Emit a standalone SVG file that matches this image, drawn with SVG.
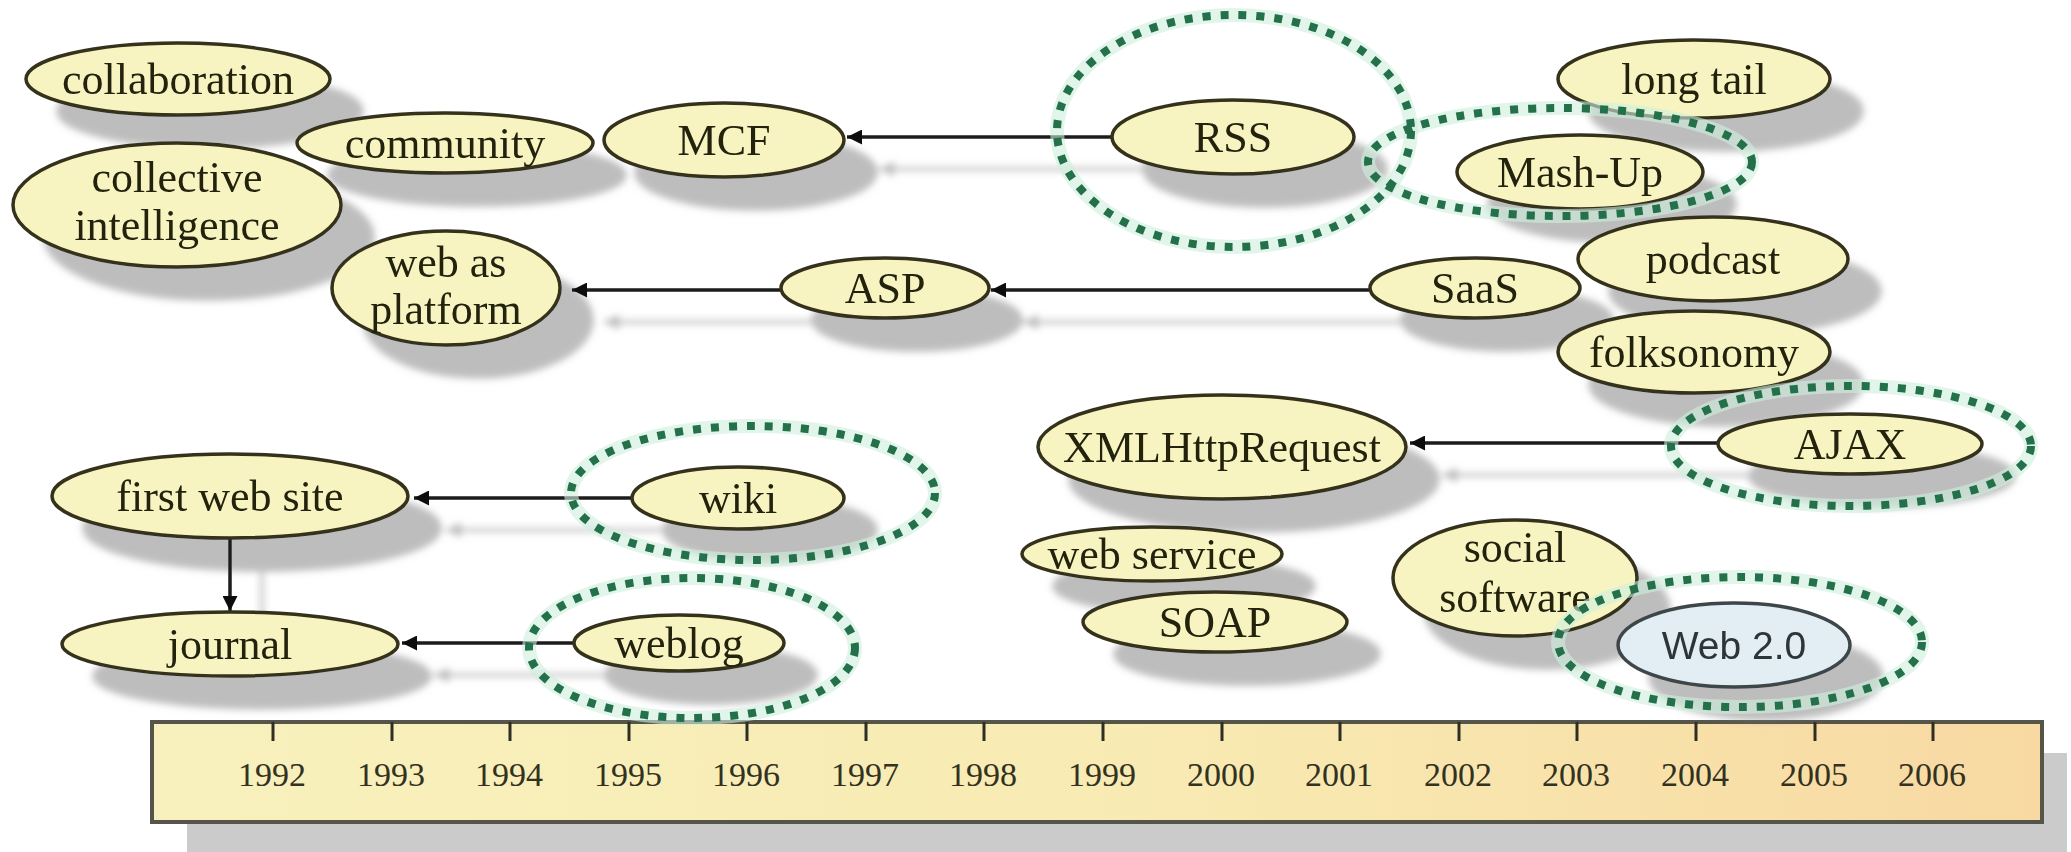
<svg xmlns="http://www.w3.org/2000/svg" width="2071" height="852" viewBox="0 0 2071 852">
<style>
.n{fill:#f8f4c2;stroke:#36311c;stroke-width:3.5}
.w{fill:#e2eef4;stroke:#3e4648;stroke-width:3.5}
.t{font-family:"Liberation Serif","Times New Roman",serif;font-size:44px;fill:#22220f;text-anchor:middle}
.ts{font-family:"Liberation Sans",Arial,sans-serif;font-size:39px;fill:#2e3438;text-anchor:middle}
.y{font-family:"Liberation Serif","Times New Roman",serif;font-size:34px;fill:#33311f;text-anchor:middle}
.c{stroke:#1a1a1a;stroke-width:3.5;fill:none;marker-end:url(#ah)}
.d{fill:none;stroke:#23704a;stroke-width:8;stroke-dasharray:8 10}
.h{fill:none;stroke:#cfeede;stroke-width:14;opacity:0.6}
.tk{stroke:#2e2e24;stroke-width:3}
</style>
<defs>
<marker id="ah" viewBox="0 0 10 10" refX="10" refY="5" markerWidth="15" markerHeight="15" markerUnits="userSpaceOnUse" orient="auto">
<path d="M0,0 L10,5 L0,10 z" fill="#111"/>
</marker>
<filter id="sh" filterUnits="userSpaceOnUse" x="0" y="0" width="2071" height="852">
<feDropShadow dx="32" dy="32" stdDeviation="3.5" flood-color="#7c7c7c" flood-opacity="0.5"/>
</filter>
<linearGradient id="bar" x1="0" y1="0" x2="1" y2="0">
<stop offset="0" stop-color="#f8f1bd"/>
<stop offset="0.55" stop-color="#f8eab2"/>
<stop offset="1" stop-color="#f8d9a2"/>
</linearGradient>
</defs>
<rect width="2071" height="852" fill="#ffffff"/>

<g id="timeline">
<rect x="187" y="753" width="1880" height="99" fill="#cbcbcb"/>
<rect x="152" y="722" width="1890" height="100" fill="url(#bar)" stroke="#55554a" stroke-width="4"/>
<g id="ticks">
<line class="tk" x1="273" y1="722" x2="273" y2="741"/>
<line class="tk" x1="392" y1="722" x2="392" y2="741"/>
<line class="tk" x1="510" y1="722" x2="510" y2="741"/>
<line class="tk" x1="629" y1="722" x2="629" y2="741"/>
<line class="tk" x1="747" y1="722" x2="747" y2="741"/>
<line class="tk" x1="866" y1="722" x2="866" y2="741"/>
<line class="tk" x1="984" y1="722" x2="984" y2="741"/>
<line class="tk" x1="1103" y1="722" x2="1103" y2="741"/>
<line class="tk" x1="1222" y1="722" x2="1222" y2="741"/>
<line class="tk" x1="1340" y1="722" x2="1340" y2="741"/>
<line class="tk" x1="1459" y1="722" x2="1459" y2="741"/>
<line class="tk" x1="1577" y1="722" x2="1577" y2="741"/>
<line class="tk" x1="1696" y1="722" x2="1696" y2="741"/>
<line class="tk" x1="1815" y1="722" x2="1815" y2="741"/>
<line class="tk" x1="1933" y1="722" x2="1933" y2="741"/>
</g>
<g id="years">
<text class="y" x="272" y="786">1992</text>
<text class="y" x="391" y="786">1993</text>
<text class="y" x="509" y="786">1994</text>
<text class="y" x="628" y="786">1995</text>
<text class="y" x="746" y="786">1996</text>
<text class="y" x="865" y="786">1997</text>
<text class="y" x="983" y="786">1998</text>
<text class="y" x="1102" y="786">1999</text>
<text class="y" x="1221" y="786">2000</text>
<text class="y" x="1339" y="786">2001</text>
<text class="y" x="1458" y="786">2002</text>
<text class="y" x="1576" y="786">2003</text>
<text class="y" x="1695" y="786">2004</text>
<text class="y" x="1814" y="786">2005</text>
<text class="y" x="1932" y="786">2006</text>
</g>
</g>

<g id="graph" filter="url(#sh)">
<g id="connectors">
<line class="c" x1="1112" y1="137" x2="847" y2="137"/>
<line class="c" x1="1370" y1="290" x2="991" y2="290"/>
<line class="c" x1="781" y1="290" x2="572" y2="290"/>
<line class="c" x1="1718" y1="443" x2="1410" y2="443"/>
<line class="c" x1="632" y1="498" x2="414" y2="498"/>
<line class="c" x1="574" y1="643" x2="402" y2="643"/>
<line class="c" x1="230" y1="538" x2="230" y2="611"/>
</g>
<g id="collaboration"><ellipse class="n" cx="178" cy="79" rx="152" ry="36"/><text class="t" x="178" y="94">collaboration</text></g>
<g id="community"><ellipse class="n" cx="445" cy="143" rx="148" ry="30"/><text class="t" x="445" y="158">community</text></g>
<g id="collective-intelligence"><ellipse class="n" cx="177" cy="205" rx="164" ry="62"/><text class="t" x="177" y="192">collective</text><text class="t" x="177" y="240">intelligence</text></g>
<g id="mcf"><ellipse class="n" cx="724" cy="140" rx="120" ry="37"/><text class="t" x="724" y="155">MCF</text></g>
<g id="rss"><ellipse class="n" cx="1233" cy="137" rx="121" ry="37"/><text class="t" x="1233" y="152">RSS</text></g>
<g id="long-tail"><ellipse class="n" cx="1694" cy="79" rx="136" ry="39"/><text class="t" x="1694" y="94">long tail</text></g>
<g id="mash-up"><ellipse class="n" cx="1580" cy="172" rx="123" ry="37"/><text class="t" x="1580" y="187">Mash-Up</text></g>
<g id="podcast"><ellipse class="n" cx="1713" cy="259" rx="135" ry="42"/><text class="t" x="1713" y="274">podcast</text></g>
<g id="web-as-platform"><ellipse class="n" cx="446" cy="288" rx="114" ry="57"/><text class="t" x="446" y="277">web as</text><text class="t" x="446" y="324">platform</text></g>
<g id="asp"><ellipse class="n" cx="885" cy="288" rx="104" ry="30"/><text class="t" x="885" y="303">ASP</text></g>
<g id="saas"><ellipse class="n" cx="1475" cy="288" rx="105" ry="30"/><text class="t" x="1475" y="303">SaaS</text></g>
<g id="folksonomy"><ellipse class="n" cx="1694" cy="352" rx="136" ry="41"/><text class="t" x="1694" y="367">folksonomy</text></g>
<g id="xmlhttprequest"><ellipse class="n" cx="1222" cy="447" rx="184" ry="52"/><text class="t" x="1222" y="462">XMLHttpRequest</text></g>
<g id="ajax"><ellipse class="n" cx="1850" cy="444" rx="132" ry="30"/><text class="t" x="1850" y="459">AJAX</text></g>
<g id="web-service"><ellipse class="n" cx="1152" cy="554" rx="130" ry="27"/><text class="t" x="1152" y="569">web service</text></g>
<g id="soap"><ellipse class="n" cx="1215" cy="622" rx="132" ry="30"/><text class="t" x="1215" y="637">SOAP</text></g>
<g id="social-software"><ellipse class="n" cx="1515" cy="578" rx="122" ry="58"/><text class="t" x="1515" y="562">social</text><text class="t" x="1515" y="612">software</text></g>
<g id="web20"><ellipse class="w" cx="1734" cy="645" rx="116" ry="42"/><text class="ts" x="1734" y="659">Web 2.0</text></g>
<g id="first-web-site"><ellipse class="n" cx="230" cy="496" rx="178" ry="42"/><text class="t" x="230" y="511">first web site</text></g>
<g id="wiki"><ellipse class="n" cx="738" cy="498" rx="106" ry="31"/><text class="t" x="738" y="513">wiki</text></g>
<g id="journal"><ellipse class="n" cx="230" cy="644" rx="168" ry="32"/><text class="t" x="230" y="659">journal</text></g>
<g id="weblog"><ellipse class="n" cx="679" cy="643" rx="105" ry="28"/><text class="t" x="679" y="658">weblog</text></g>
</g>

<g id="highlights">
<ellipse class="h" cx="1234" cy="131" rx="177" ry="116"/>
<ellipse class="h" cx="1560" cy="162" rx="192" ry="54"/>
<ellipse class="h" cx="1851" cy="446" rx="180" ry="60"/>
<ellipse class="h" cx="1740" cy="642" rx="182" ry="65"/>
<ellipse class="h" cx="753" cy="493" rx="182" ry="67"/>
<ellipse class="h" cx="692" cy="648" rx="163" ry="70"/>
<ellipse class="d" cx="1234" cy="131" rx="177" ry="116"/>
<ellipse class="d" cx="1560" cy="162" rx="192" ry="54"/>
<ellipse class="d" cx="1851" cy="446" rx="180" ry="60"/>
<ellipse class="d" cx="1740" cy="642" rx="182" ry="65"/>
<ellipse class="d" cx="753" cy="493" rx="182" ry="67"/>
<ellipse class="d" cx="692" cy="648" rx="163" ry="70"/>
</g>
</svg>
